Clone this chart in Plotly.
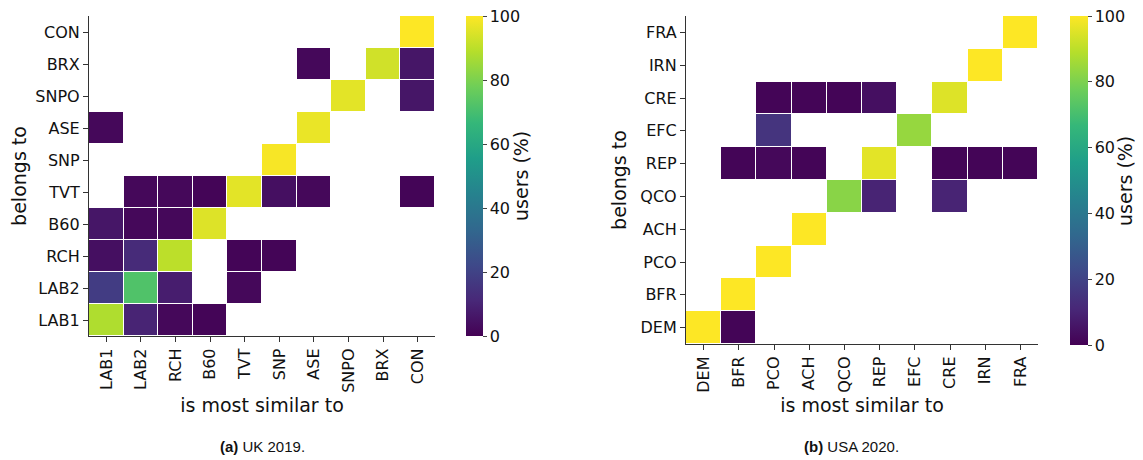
import plotly.graph_objects as go

# ---------------- data ----------------
uk_cats = ["LAB1", "LAB2", "RCH", "B60", "TVT", "SNP", "ASE", "SNPO", "BRX", "CON"]
# rows = "belongs to" (bottom->top, same order as uk_cats), cols = "is most similar to"
uk_lab1 = [88, 10, 2, 1, None, None, None, None, None, None]
uk_lab2 = [18, 72, 8, None, 2, None, None, None, None, None]
uk_rch = [4, 12, 90, None, 1, 1, None, None, None, None]
uk_b60 = [6, 2, 2, 95, None, None, None, None, None, None]
uk_tvt = [None, 2, 2, 1, 96, 4, 2, None, None, 1]
uk_snp = [None, None, None, None, None, 99, None, None, None, None]
uk_ase = [2, None, None, None, None, None, 97, None, None, None]
uk_snpo = [None, None, None, None, None, None, None, 96, None, 6]
uk_brx = [None, None, None, None, None, None, 2, None, 93, 6]
uk_con = [None, None, None, None, None, None, None, None, None, 100]

us_cats = ["DEM", "BFR", "PCO", "ACH", "QCO", "REP", "EFC", "CRE", "IRN", "FRA"]
us_dem = [100, 1, None, None, None, None, None, None, None, None]
us_bfr = [None, 100, None, None, None, None, None, None, None, None]
us_pco = [None, None, 100, None, None, None, None, None, None, None]
us_ach = [None, None, None, 100, None, None, None, None, None, None]
us_qco = [None, None, None, None, 82, 10, None, 10, None, None]
us_rep = [None, 1, 2, 1, None, 96, None, 1, 1, 1]
us_efc = [None, None, 15, None, None, None, 84, None, None, None]
us_cre = [None, None, 1, 1, 1, 4, None, 95, None, None]
us_irn = [None, None, None, None, None, None, None, None, 100, None]
us_fra = [None, None, None, None, None, None, None, None, None, 100]

cbar_ticks = [0, 20, 40, 60, 80, 100]

uk_z = [uk_lab1, uk_lab2, uk_rch, uk_b60, uk_tvt, uk_snp, uk_ase, uk_snpo, uk_brx, uk_con]
us_z = [us_dem, us_bfr, us_pco, us_ach, us_qco, us_rep, us_efc, us_cre, us_irn, us_fra]

FONT = "DejaVu Sans"
OFF = 8  # browser default body margin
W, H = 1143 - OFF, 460 - OFF

fig = go.Figure()
fig.add_trace(go.Heatmap(z=uk_z, x=uk_cats, y=uk_cats, xgap=1, ygap=1,
                         coloraxis="coloraxis", hoverongaps=False))
fig.add_trace(go.Heatmap(z=us_z, x=us_cats, y=us_cats, xgap=1, ygap=1,
                         coloraxis="coloraxis2", xaxis="x2", yaxis="y2", hoverongaps=False))


def px_x(p):
    return (p - OFF) / W


def px_y(p):
    return 1 - (p - OFF) / H


axis_common = dict(showline=True, linecolor="#333333", linewidth=1.2, ticks="outside",
                   ticklen=5, tickcolor="#333333", showgrid=False, zeroline=False,
                   tickfont=dict(family=FONT, size=16, color="#111111"),
                   type="category")

cb_common = dict(xanchor="left", yanchor="bottom", lenmode="fraction",
                 outlinewidth=0, ticks="outside", ticklen=4, ypad=0,
                 tickvals=cbar_ticks, ticklabeloverflow="allow",
                 tickfont=dict(family=FONT, size=16))

fig.update_layout(
    width=W, height=H,
    margin=dict(l=0, r=0, t=0, b=0),
    paper_bgcolor="white", plot_bgcolor="white",
    font=dict(family=FONT, color="#111111"),
    xaxis=dict(domain=[px_x(89), px_x(435)], anchor="y", tickangle=-90,
               title=dict(text="is most similar to", font=dict(size=19), standoff=6),
               **axis_common),
    yaxis=dict(domain=[px_y(336), px_y(16)], anchor="x",
               title=dict(text="belongs to", font=dict(size=19), standoff=8),
               **axis_common),
    xaxis2=dict(domain=[px_x(686), px_x(1038)], anchor="y2", tickangle=-90,
                title=dict(text="is most similar to", font=dict(size=19), standoff=6),
                **axis_common),
    yaxis2=dict(domain=[px_y(344), px_y(16)], anchor="x2",
                title=dict(text="belongs to", font=dict(size=19), standoff=8),
                **axis_common),
    coloraxis=dict(colorscale="Viridis", cmin=0, cmax=100,
                   colorbar=dict(x=px_x(456), y=px_y(336), len=320 / H, thickness=17,
                                 **cb_common)),
    coloraxis2=dict(colorscale="Viridis", cmin=0, cmax=100,
                    colorbar=dict(x=px_x(1060), y=px_y(345), len=329 / H, thickness=18,
                                  **cb_common)),
    annotations=[
        dict(text="users (%)", x=px_x(521), y=px_y(176), xref="paper", yref="paper",
             textangle=-90, showarrow=False, xanchor="center", yanchor="middle",
             font=dict(family=FONT, size=19)),
        dict(text="users (%)", x=px_x(1125), y=px_y(181), xref="paper", yref="paper",
             textangle=-90, showarrow=False, xanchor="center", yanchor="middle",
             font=dict(family=FONT, size=19)),
        dict(text="<b>(a)</b> UK 2019.", x=px_x(262), y=px_y(446), xref="paper", yref="paper",
             showarrow=False, xanchor="center", yanchor="middle",
             font=dict(family="Liberation Sans", size=15)),
        dict(text="<b>(b)</b> USA 2020.", x=px_x(851), y=px_y(446), xref="paper", yref="paper",
             showarrow=False, xanchor="center", yanchor="middle",
             font=dict(family="Liberation Sans", size=15)),
    ],
)

fig.write_html("out.html")
